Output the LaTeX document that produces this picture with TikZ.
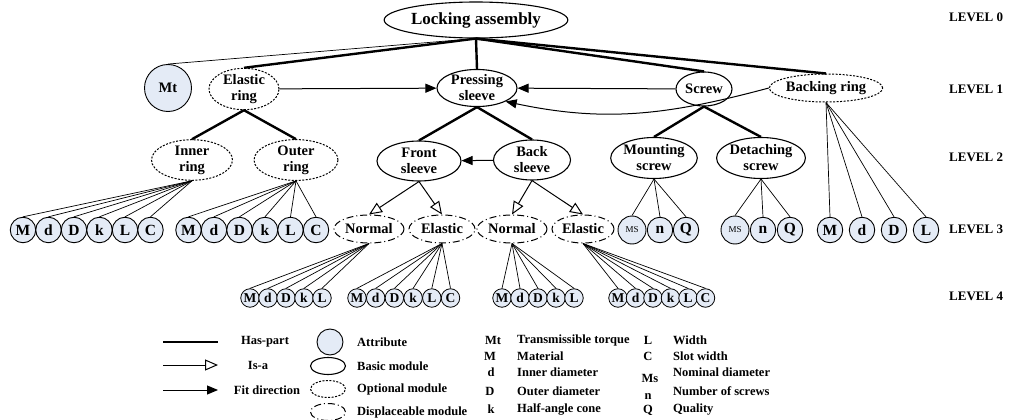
\documentclass[tikz,border=0pt]{standalone}
\usepackage{fontspec}
\setmainfont{Liberation Serif}
\usepackage{tikz}
\definecolor{attrblue}{RGB}{228,235,246}
\usetikzlibrary{arrows.meta}
\usetikzlibrary{shapes}
\usetikzlibrary{positioning}

\begin{document}
\begin{tikzpicture}[x=1pt,y=-1pt]
        \tikzset{every node/.style={inner sep=0pt, font=\bfseries\fontsize{14.5}{16}\selectfont},
                basicmod/.style={ellipse, draw, line width=1.1pt, align=center},
                optmod/.style={ellipse, draw, line width=1pt, dash pattern=on 2pt off 1.5pt, align=center},
                dispmod/.style={ellipse, draw, line width=1pt, dash pattern=on 7pt off 3pt on 1pt off 3pt},
                attr/.style={circle, draw, fill=attrblue, line width=0.9pt, minimum size=25.5pt, font=\bfseries\fontsize{15.5}{16}\selectfont},
                smallattr/.style={circle, draw, fill=attrblue, line width=0.8pt, minimum size=18.5pt, font=\bfseries\fontsize{13.5}{14}\selectfont},
                haspart/.style={line width=2.4pt},
                attrline/.style={line width=0.7pt},
                isa/.style={line width=1pt, -{Triangle[open, length=13pt, width=11pt]}},
                fitdir/.style={line width=1pt, -{Triangle[length=11pt, width=9pt]}},
                lvltext/.style={anchor=west, font=\bfseries\fontsize{13}{13}\selectfont},
                legtext/.style={font=\bfseries\fontsize{12.5}{13}\selectfont}}
        \useasboundingbox (0,0) rectangle (1018,420);

        % level 0 and 1
        \node[basicmod, minimum width=174pt, minimum height=36pt, font=\bfseries\fontsize{17}{18}\selectfont] (la) at (476,20) {Locking assembly};
        \node[attr, minimum size=47pt, font=\bfseries\fontsize{14.5}{16}\selectfont] (mt) at (168,88) {Mt};
        \node[optmod, minimum width=70pt, minimum height=36pt] (er) at (244,89) {Elastic\\ring};
        \node[basicmod, minimum width=80pt, minimum height=37pt] (ps) at (477,88) {Pressing\\sleeve};
        \node[basicmod, minimum width=56pt, minimum height=34pt] (sc) at (704,89) {Screw};
        \node[optmod, minimum width=106pt, minimum height=28pt] (br) at (826,88) {Backing ring};

        % level 2
        \node[optmod, minimum width=81pt, minimum height=34pt] (ir) at (192,160) {Inner\\ring};
        \node[optmod, minimum width=84pt, minimum height=34pt] (or) at (296,160) {Outer\\ring};
        \node[basicmod, minimum width=84pt, minimum height=40pt] (fs) at (419,161) {Front\\sleeve};
        \node[basicmod, minimum width=77pt, minimum height=40pt] (bs) at (532,160) {Back\\sleeve};
        \node[basicmod, minimum width=76pt, minimum height=41pt] (ms) at (654,158) {Mounting\\screw};
        \node[basicmod, minimum width=76pt, minimum height=41pt] (ds) at (761,158) {Detaching\\screw};

        % level 3
        \node[attr] (i1) at (23,230) {M};
        \node[attr] (i2) at (48.5,230) {d};
        \node[attr] (i3) at (74,230) {D};
        \node[attr] (i4) at (99.5,230) {k};
        \node[attr] (i5) at (125,230) {L};
        \node[attr] (i6) at (150.5,230) {C};
        \node[attr] (o1) at (188.5,230) {M};
        \node[attr] (o2) at (214,230) {d};
        \node[attr] (o3) at (239.5,230) {D};
        \node[attr] (o4) at (265,230) {k};
        \node[attr] (o5) at (290.5,230) {L};
        \node[attr] (o6) at (316,230) {C};
        \node[dispmod, minimum width=70pt, minimum height=28pt] (nm1) at (369,229) {Normal};
        \node[dispmod, minimum width=66pt, minimum height=28pt] (el1) at (442,229) {Elastic};
        \node[dispmod, minimum width=70pt, minimum height=28pt] (nm2) at (512,229) {Normal};
        \node[dispmod, minimum width=62pt, minimum height=28pt] (el2) at (583,229) {Elastic};
        \node[attr, minimum size=28pt, font=\fontsize{9}{9}\selectfont] (m1) at (632,230) {MS};
        \node[attr] (m2) at (660,230) {n};
        \node[attr] (m3) at (686,230) {Q};
        \node[attr, minimum size=28pt, font=\fontsize{9}{9}\selectfont] (d1) at (735,230) {MS};
        \node[attr] (d2) at (763,230) {n};
        \node[attr] (d3) at (790,230) {Q};
        \node[attr] (b1) at (830,230) {M};
        \node[attr] (b2) at (862,230) {d};
        \node[attr] (b3) at (894,230) {D};
        \node[attr] (b4) at (926,230) {L};

        % level 4
        \node[smallattr] (na1) at (250,298) {M};
        \node[smallattr] (na2) at (268,298) {d};
        \node[smallattr] (na3) at (286,298) {D};
        \node[smallattr] (na4) at (304,298) {k};
        \node[smallattr] (na5) at (322,298) {L};
        \node[smallattr] (ea1) at (357,298) {M};
        \node[smallattr] (ea2) at (375.7,298) {d};
        \node[smallattr] (ea3) at (394.4,298) {D};
        \node[smallattr] (ea4) at (413.1,298) {k};
        \node[smallattr] (ea5) at (431.8,298) {L};
        \node[smallattr] (ea6) at (450.5,298) {C};
        \node[smallattr] (nb1) at (502,298) {M};
        \node[smallattr] (nb2) at (520,298) {d};
        \node[smallattr] (nb3) at (538,298) {D};
        \node[smallattr] (nb4) at (556,298) {k};
        \node[smallattr] (nb5) at (574,298) {L};
        \node[smallattr] (eb1) at (618,298) {M};
        \node[smallattr] (eb2) at (635.5,298) {d};
        \node[smallattr] (eb3) at (653,298) {D};
        \node[smallattr] (eb4) at (670.5,298) {k};
        \node[smallattr] (eb5) at (688,298) {L};
        \node[smallattr] (eb6) at (705.5,298) {C};

        % level labels
        \node[lvltext] (lv0) at (949,17) {LEVEL 0};
        \node[lvltext] (lv1) at (949,89) {LEVEL 1};
        \node[lvltext] (lv2) at (949,157) {LEVEL 2};
        \node[lvltext] (lv3) at (949,229) {LEVEL 3};
        \node[lvltext] (lv4) at (949,296) {LEVEL 4};

        % has-part
        \path [attrline] (la.south) edge (mt.north);
        \path [haspart] (la.south) edge (er.north) edge (ps.north) edge (sc.north) edge (br.north);
        \path [haspart] (er.south) edge (ir.north) edge (or.north);
        \path [haspart] (ps.south) edge (fs.north) edge (bs.north);
        \path [haspart] (sc.south) edge (ms.north) edge (ds.north);

        % fit direction
        \path [fitdir] (er) edge (ps);
        \path [fitdir] (sc) edge (ps);
        \path [fitdir] (bs) edge (fs);
        \path [fitdir] (br.west) edge[out=195, in=-12] (ps.south east);

        % is-a
        \path [isa] (fs.south) edge (nm1.north) edge (el1.north);
        \path [isa] (bs.south) edge (nm2.north) edge (el2.north);

        % attributes
        \path [attrline] (ir.south) edge (i1.north) edge (i2.north) edge (i3.north) edge (i4.north) edge (i5.north) edge (i6.north);
        \path [attrline] (or.south) edge (o1.north) edge (o2.north) edge (o3.north) edge (o4.north) edge (o5.north) edge (o6.north);
        \path [attrline] (ms.south) edge (m1.north) edge (m2.north) edge (m3.north);
        \path [attrline] (ds.south) edge (d1.north) edge (d2.north) edge (d3.north);
        \path [attrline] (br.south) edge (b1.north) edge (b2.north) edge (b3.north) edge (b4.north);
        \path [attrline] (nm1.south) edge (na1.north) edge (na2.north) edge (na3.north) edge (na4.north) edge (na5.north);
        \path [attrline] (el1.south) edge (ea1.north) edge (ea2.north) edge (ea3.north) edge (ea4.north) edge (ea5.north) edge (ea6.north);
        \path [attrline] (nm2.south) edge (nb1.north) edge (nb2.north) edge (nb3.north) edge (nb4.north) edge (nb5.north);
        \path [attrline] (el2.south) edge (eb1.north) edge (eb2.north) edge (eb3.north) edge (eb4.north) edge (eb5.north) edge (eb6.north);

        % legend
        \coordinate (hpa) at (163,342);
        \coordinate (hpb) at (218,342);
        \coordinate (isaa) at (163,365);
        \coordinate (isab) at (218,365);
        \coordinate (fda) at (163,390);
        \coordinate (fdb) at (218,390);
        \path [haspart] (hpa) edge (hpb);
        \path [isa] (isaa) edge (isab);
        \path [fitdir] (fda) edge (fdb);
        \node[legtext] (lhp) at (265,342) {Has-part};
        \node[legtext] (lisa) at (258,365) {Is-a};
        \node[legtext] (lfd) at (267,390) {Fit direction};

        \node[attr, minimum size=26pt] (lattr) at (330,342) {};
        \node[basicmod, minimum width=35pt, minimum height=17pt] (lbasic) at (328,366) {};
        \node[optmod, minimum width=35pt, minimum height=17pt] (lopt) at (328,389) {};
        \node[dispmod, minimum width=35pt, minimum height=17pt] (ldisp) at (328,412) {};
        \node[legtext, anchor=west] (tattr) at (357,342) {Attribute};
        \node[legtext, anchor=west] (tbasic) at (357,366) {Basic module};
        \node[legtext, anchor=west] (topt) at (357,389) {Optional module};
        \node[legtext, anchor=west] (tdisp) at (357,412) {Displaceable module};

        \node[legtext] (sMt) at (493,340) {Mt};
        \node[legtext] (sM) at (490,356) {M};
        \node[legtext] (sd) at (491,372) {d};
        \node[legtext] (sD) at (490,391) {D};
        \node[legtext] (sk) at (491,409) {k};
        \node[legtext, anchor=west] (tMt) at (517,340) {Transmissible torque};
        \node[legtext, anchor=west] (tM) at (517,356) {Material};
        \node[legtext, anchor=west] (td) at (517,372) {Inner diameter};
        \node[legtext, anchor=west] (tD) at (517,391) {Outer diameter};
        \node[legtext, anchor=west] (tk) at (517,409) {Half-angle cone};

        \node[legtext] (sL) at (648,340) {L};
        \node[legtext] (sC) at (648,356) {C};
        \node[legtext] (sMs) at (650,378) {Ms};
        \node[legtext] (sn) at (648,397) {n};
        \node[legtext] (sQ) at (648,410) {Q};
        \node[legtext, anchor=west] (tL) at (673,340) {Width};
        \node[legtext, anchor=west] (tC) at (673,356) {Slot width};
        \node[legtext, anchor=west] (tMs) at (673,372) {Nominal diameter};
        \node[legtext, anchor=west] (tn) at (673,391) {Number of screws};
        \node[legtext, anchor=west] (tQ) at (673,410) {Quality};

    \end{tikzpicture}
\end{document}
